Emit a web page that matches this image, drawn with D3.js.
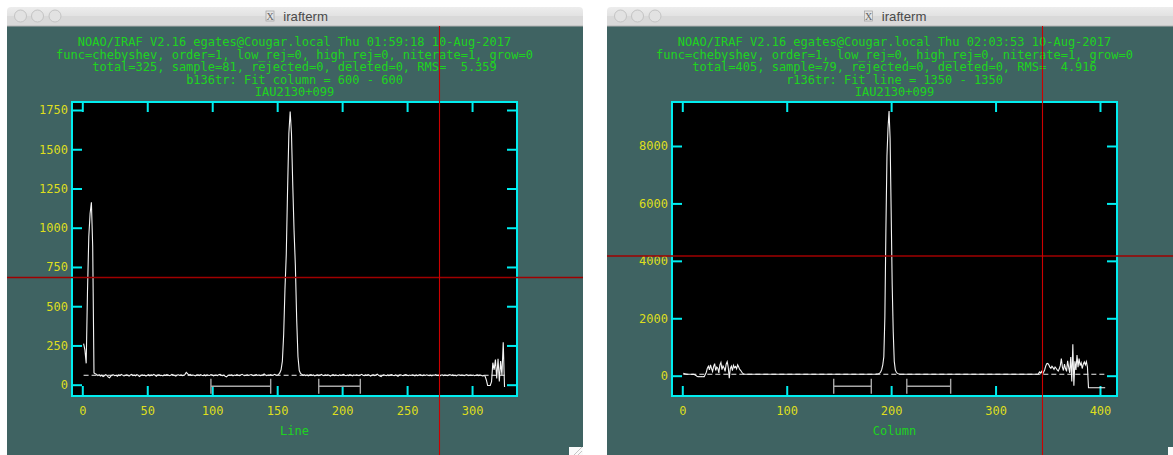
<!DOCTYPE html>
<html><head><meta charset="utf-8">
<script src="https://cdn.jsdelivr.net/npm/d3@7"></script>
<style>body{margin:0;background:#fff;} svg{display:block;} text{white-space:pre;}</style>
</head><body><svg id="c" width="1173" height="455"></svg>
<script>
// ---------- DATA ----------
// Left plot: Line 1..325
const leftLineValues = [
 262,222,136,596,943,1090,1162,880,75,70,
 66,58,63,55,60,52,57,64,59,48,
 44,56,61,63,57,60,54,62,58,65,
 61,56,59,63,60,55,62,66,58,61,
 57,64,60,52,58,63,59,61,55,60,
 64,57,62,59,66,60,54,61,63,58,
 60,56,62,59,64,61,57,60,66,62,
 58,55,61,63,59,62,57,60,64,78,
 70,61,65,59,62,60,56,61,63,58,
 64,60,58,62,57,63,60,59,64,61,
 56,60,62,58,63,66,60,57,61,54,
 50,58,62,60,63,57,61,59,64,60,
 58,62,66,61,57,60,63,59,62,65,
 60,58,61,64,59,62,57,60,63,68,
 61,58,62,60,64,59,61,66,62,60,
 64,
 75,95,150,320,610,830,1240,1600,1740,1600,1270,980,760,420,180,90,72,
 66,60,63,58,62,57,61,64,59,62,
 56,60,63,58,61,65,60,57,62,59,
 63,60,55,61,64,58,62,60,57,63,
 59,62,66,60,57,61,58,64,60,56,
 62,59,63,60,58,61,66,60,57,62,
 59,64,60,55,61,63,58,62,67,60,
 56,52,59,63,60,57,62,58,61,64,
 60,57,62,59,54,61,63,60,58,62,
 65,60,57,61,59,63,60,56,62,58,
 61,64,60,57,62,59,63,60,58,61,
 57,62,60,64,59,61,55,60,63,58,
 62,60,57,61,64,59,62,58,60,56,
 61,63,59,62,60,57,61,64,58,60,
 62,59,61,57,60,63,58,61,60,56,
 58,
 55,30,-5,-5,-5,20,140,95,160,40,165,20,150,60,270,-15
];
// Right plot: Column 1..405
const rightColumnValues = [
 84,72,62,56,52,50,49,48,47,46,45,30,10,-20,-35,-30,-35,-32,-35,-30,-35,40,
 120,260,330,200,380,250,150,320,420,180,
 300,260,100,380,460,210,340,270,150,400,
 490,300,-90,250,330,180,360,280,320,240,
 380,300,220,180,120,80,55,
 52,50,49,51,50,48,50,51,49,50,
 51,50,49,50,52,50,48,50,51,50,
 49,50,51,50,49,51,50,50,48,50,
 51,49,50,52,50,49,50,51,50,49,
 50,51,50,48,50,50,51,49,50,52,
 50,49,51,50,50,48,50,51,50,49,
 50,52,50,49,51,50,50,49,50,51,
 50,48,50,51,49,50,52,50,49,50,
 51,50,49,50,51,50,48,50,50,51,
 49,50,52,50,49,51,50,50,49,50,
 51,50,48,50,51,49,50,52,50,49,
 50,51,50,49,50,51,50,48,50,51,
 50,49,51,50,52,50,55,60,
 65,90,130,220,380,660,2050,5130,7650,8620,9220,8270,5770,3180,1530,500,200,120,80,65,55,
 52,50,51,49,50,50,51,50,48,50,
 50,51,49,50,52,50,49,50,51,50,
 49,50,51,50,50,48,50,51,49,50,
 52,50,49,50,51,50,50,49,51,50,
 48,50,51,50,49,52,50,50,49,51,
 50,50,48,50,51,49,50,52,50,49,
 50,51,50,49,50,51,50,48,50,51,
 50,49,51,50,52,50,49,50,51,50,
 49,50,51,50,50,48,50,51,49,50,
 52,50,49,50,51,50,50,49,51,50,
 48,50,51,50,49,52,50,50,49,51,
 50,50,48,50,51,49,50,52,50,49,
 50,51,50,49,50,51,50,48,50,51,
 50,52,
 60,130,90,150,60,120,200,330,420,430,
 380,300,260,330,280,220,300,260,200,160,
 240,350,600,300,180,400,250,150,520,300,
 100,650,-200,1093,-348,500,200,720,300,600,
 350,450,250,400,480,380,490,300,-418,
 -418,-418,-418,-418,-418,-418,-418,-418,-418,-418,-418,-418,-418,-418,-418,-418
];
const leftXTicks = [0,50,100,150,200,250,300];
const leftYTicks = [0,250,500,750,1000,1250,1500,1750];
const rightXTicks = [0,100,200,300,400];
const rightYTicks = [0,2000,4000,6000,8000];
const leftSampleRanges = [[99,145],[182,214]];
const rightSampleRanges = [[145,181],[215,257]];
const leftFitLevel = 60;
const rightFitLevel = 50;
const leftTitles = [
 "NOAO/IRAF V2.16 egates@Cougar.local Thu 01:59:18 10-Aug-2017",
 "func=chebyshev, order=1, low_rej=0, high_rej=0, niterate=1, grow=0",
 "total=325, sample=81, rejected=0, deleted=0, RMS=  5.359",
 "b136tr: Fit column = 600 - 600",
 "IAU2130+099"];
const rightTitles = [
 "NOAO/IRAF V2.16 egates@Cougar.local Thu 02:03:53 10-Aug-2017",
 "func=chebyshev, order=1, low_rej=0, high_rej=0, niterate=1, grow=0",
 "total=405, sample=79, rejected=0, deleted=0, RMS=  4.916",
 "r136tr: Fit line = 1350 - 1350",
 "IAU2130+099"];
const leftXLabel = "Line";
const rightXLabel = "Column";
const windowTitle = "irafterm";

// ---------- DRAW ----------
const svg = d3.select("#c");
const TEAL = "#3f6362", CYAN = "#00eef0", YELLOW = "#dede1e", GREEN = "#1ed41e";
const MONO = "DejaVu Sans Mono, monospace";

const defs = svg.append("defs");
const grad = defs.append("linearGradient").attr("id","tb").attr("x1",0).attr("y1",0).attr("x2",0).attr("y2",1);
grad.append("stop").attr("offset","0%").attr("stop-color","#ededed");
grad.append("stop").attr("offset","100%").attr("stop-color","#d6d6d6");

function drawPanel(cfg, idx) {
  const g = svg.append("g");
  const W = cfg.win;
  g.append("rect").attr("x",W.x0).attr("y",26).attr("width",W.x1-W.x0).attr("height",455-26).attr("fill",TEAL);
  g.append("rect").attr("x",W.x0).attr("y",7).attr("width",W.x1-W.x0).attr("height",19).attr("rx",4).attr("fill","url(#tb)");
  g.append("rect").attr("x",W.x0).attr("y",16).attr("width",W.x1-W.x0).attr("height",10).attr("fill","#d9d9d9");
  g.append("line").attr("x1",W.x0).attr("x2",W.x1).attr("y1",26).attr("y2",26).attr("stroke","#b4b4b4");
  [13.5,30.5,48].forEach(o=>{
    g.append("circle").attr("cx",W.x0+o).attr("cy",16).attr("r",6).attr("fill","#e2e2e2").attr("stroke","#c4c4c4");
  });
  const cx = cfg.titleCenter;
  g.append("rect").attr("x",cx-29).attr("y",11).attr("width",8).attr("height",10).attr("fill","#e4e4e4").attr("stroke","#a0a0a0").attr("stroke-width",0.7);
  g.append("text").attr("x",cx-25).attr("y",19.5).attr("text-anchor","middle").attr("font-family","Liberation Serif, serif").attr("font-size",10).attr("fill","#666").text("X");
  g.append("text").attr("x",cx-11.7).attr("y",20.5).attr("font-family","Liberation Sans, Arial, sans-serif").attr("font-size",13.2).attr("fill","#4a4a4a").text(windowTitle);

  const P = cfg.plot;
  const x = d3.scaleLinear().domain(cfg.xDomain).range([P.l, P.r]);
  const y = d3.scaleLinear().domain(cfg.yDomain).range([P.b, P.t]);

  const pc = (P.l + P.r) / 2;
  const bases = [46.1, 58.7, 71.1, 84.4, 96.1];
  cfg.titles.forEach((t,i)=>{
    g.append("text").attr("x",pc).attr("y",bases[i]).attr("text-anchor","middle")
      .attr("font-family",MONO).attr("font-size",12).attr("fill",GREEN).text(t);
  });

  g.append("rect").attr("x",P.l).attr("y",P.t).attr("width",P.r-P.l).attr("height",P.b-P.t).attr("fill","#000");

  function styleAxis(a){
    a.select(".domain").remove();
    a.selectAll(".tick line").attr("stroke",CYAN).attr("stroke-width",2);
    a.attr("font-family",MONO).attr("font-size",12);
    a.selectAll("text").attr("fill",YELLOW);
  }
  const fmt = d3.format("d");
  g.append("g").attr("transform",`translate(0,${P.b})`)
    .call(d3.axisBottom(x).tickValues(cfg.xTicks).tickFormat(fmt).tickSize(-10).tickPadding(10)).call(styleAxis);
  g.append("g").attr("transform",`translate(0,${P.t})`)
    .call(d3.axisTop(x).tickValues(cfg.xTicks).tickSize(-10).tickFormat("")).call(styleAxis);
  g.append("g").attr("transform",`translate(${P.l},0)`)
    .call(d3.axisLeft(y).tickValues(cfg.yTicks).tickFormat(fmt).tickSize(-10).tickPadding(4)).call(styleAxis);
  g.append("g").attr("transform",`translate(${P.r},0)`)
    .call(d3.axisRight(y).tickValues(cfg.yTicks).tickSize(-10).tickFormat("")).call(styleAxis);

  const cid = "clip"+idx;
  defs.append("clipPath").attr("id",cid).append("rect").attr("x",P.l).attr("y",P.t).attr("width",P.r-P.l).attr("height",P.b-P.t);
  const inner = g.append("g").attr("clip-path",`url(#${cid})`);

  const N = cfg.values.length;
  inner.append("path").datum([1, N])
    .attr("d", d3.line().x(d=>x(d)).y(()=>y(cfg.fit)))
    .attr("stroke","#f0f0f0").attr("stroke-width",1).attr("stroke-dasharray","5,3").attr("fill","none");

  inner.append("path").datum(cfg.values)
    .attr("d", d3.line().x((d,i)=>x(i+1)).y(d=>y(d)))
    .attr("stroke","#f4f4f4").attr("stroke-width",1.1).attr("fill","none");

  const by = y(cfg.bracketLevel);
  cfg.samples.forEach(([a,b])=>{
    const xa = x(a), xb = x(b);
    inner.append("path")
      .attr("d",`M${xa},${by-7.5}V${by+7.5}M${xa},${by}H${xb}M${xb},${by-7.5}V${by+7.5}`)
      .attr("stroke","#a8a8a8").attr("stroke-width",1.4).attr("fill","none");
  });

  g.append("rect").attr("x",P.l).attr("y",P.t).attr("width",P.r-P.l).attr("height",P.b-P.t)
    .attr("fill","none").attr("stroke",CYAN).attr("stroke-width",2);

  g.append("text").attr("x",pc).attr("y",434.5).attr("text-anchor","middle")
    .attr("font-family",MONO).attr("font-size",12).attr("fill",GREEN).text(cfg.xLabel);

  const C = cfg.cross;
  g.append("line").attr("x1",C.hx0).attr("x2",C.hx1).attr("y1",C.y).attr("y2",C.y).attr("stroke","#a00000").attr("stroke-width",1.6);
  g.append("line").attr("x1",C.x).attr("x2",C.x).attr("y1",26).attr("y2",455).attr("stroke","#cc0000").attr("stroke-width",1.1);
}

drawPanel({
  win:{x0:7,x1:583}, titleCenter:295,
  plot:{l:72,r:517,t:102,b:396},
  xDomain:[-7.93,334.6], yDomain:[-72,1801],
  xTicks:leftXTicks, yTicks:leftYTicks,
  values:leftLineValues, fit:leftFitLevel, samples:leftSampleRanges, bracketLevel:-10,
  titles:leftTitles, xLabel:leftXLabel,
  cross:{x:439.5,y:277.5,hx0:7,hx1:583}
},0);

drawPanel({
  win:{x0:607,x1:1180}, titleCenter:893.5,
  plot:{l:672,r:1117,t:102,b:396},
  xDomain:[-9.86,416.3], yDomain:[-707,9532],
  xTicks:rightXTicks, yTicks:rightYTicks,
  values:rightColumnValues, fit:rightFitLevel, samples:rightSampleRanges, bracketLevel:-370,
  titles:rightTitles, xLabel:rightXLabel,
  cross:{x:1042.5,y:256,hx0:607,hx1:1173}
},1);

svg.append("rect").attr("x",569).attr("y",447).attr("width",14).attr("height",8).attr("fill","#fafafa");
svg.append("path").attr("d","M574,455L582,447M578,455L582,451").attr("stroke","#b8b8b8").attr("stroke-width",0.8);
svg.append("rect").attr("x",1168).attr("y",447).attr("width",5).attr("height",8).attr("fill","#fafafa");
</script>
</body></html>
